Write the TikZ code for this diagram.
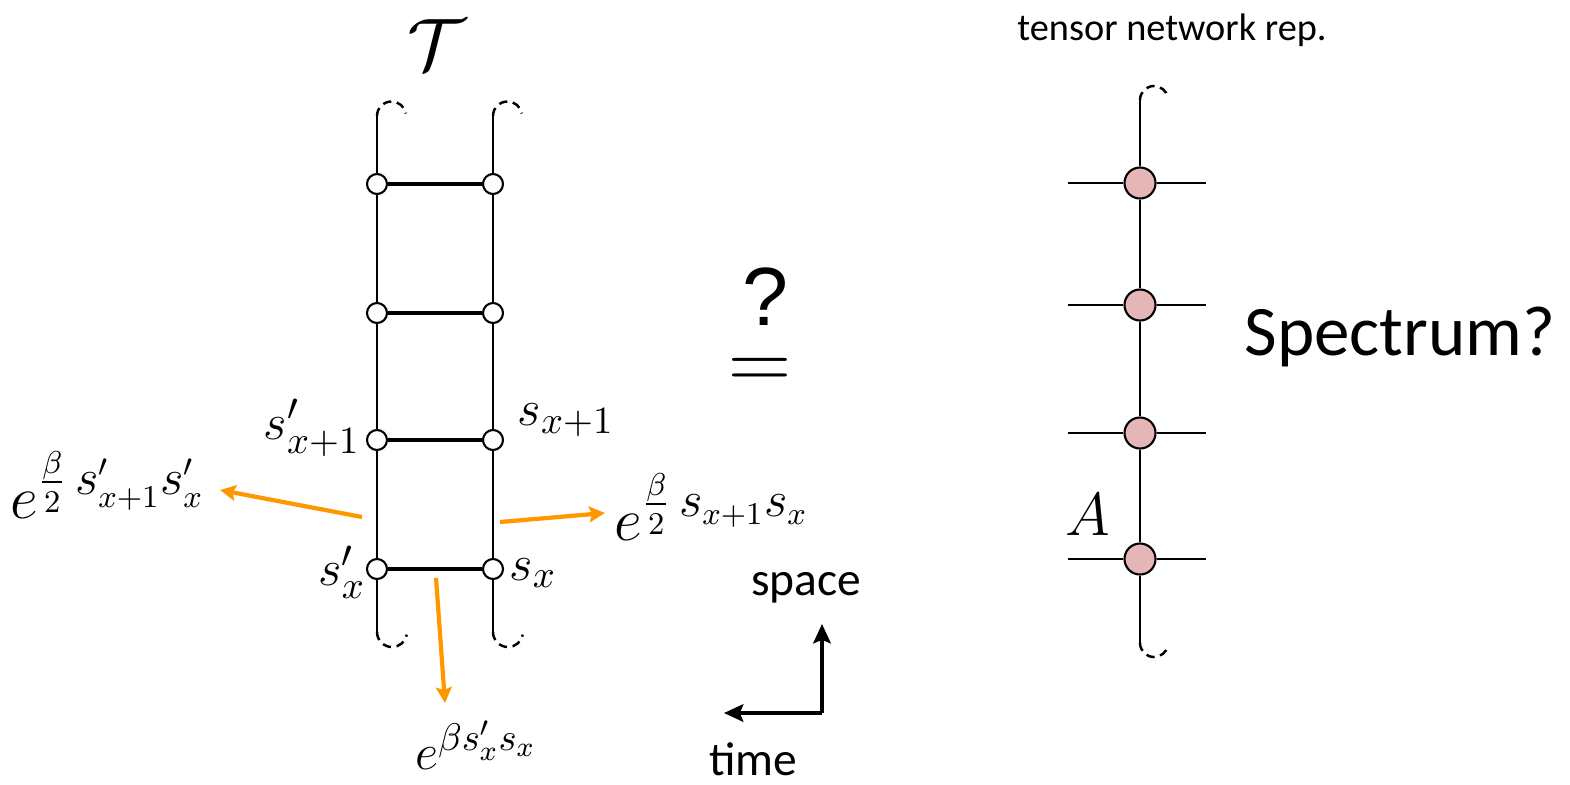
\documentclass[tikz,border=0pt]{standalone}
\usepackage{amsmath}
\usepackage{fontspec}
\setmainfont{Carlito}
\newfontfamily\qfont{Liberation Sans}
\usetikzlibrary{arrows.meta,positioning}
\definecolor{tnpink}{RGB}{230,182,182}
\definecolor{wgtorange}{RGB}{255,152,0}

\begin{document}
\begin{tikzpicture}[
    x=0.01cm, y=-0.01cm,
    spin/.style={circle, draw=black, fill=white, line width=0.6pt, inner sep=0pt, minimum size=0.2cm},
    tensor/.style={circle, draw=black, fill=tnpink, line width=0.6pt, inner sep=0pt, minimum size=0.31cm},
    rail/.style={line width=0.6pt},
    rung/.style={line width=1.2pt},
    loose/.style={line width=0.7pt, dash pattern=on 2.4pt off 1.6pt},
    wgt/.style={-{Stealth[length=4.5pt, width=4.5pt, inset=0.8pt]}, draw=wgtorange, line width=1.2pt},
    axis/.style={-{Stealth[length=5.5pt, width=5pt, inset=1pt]}, line width=1pt},
    lab/.style={font=\fontsize{15.8}{19}\selectfont, inner sep=0pt},
    biglab/.style={font=\fontsize{19}{23}\selectfont, inner sep=0pt},
    txt/.style={font=\fontsize{13.5}{16}\selectfont, inner sep=0pt}
]
\useasboundingbox (0,0) rectangle (1570,784);

\node[lab, font=\fontsize{22}{26}\selectfont] (tlabel) at (437,45) {$\mathcal{T}$};

\foreach \i/\y in {1/184, 2/313, 3/440, 4/569} {
    \node[spin] (l\i) at (377,\y) {};
    \node[spin] (r\i) at (493,\y) {};
}
\coordinate (ltop) at (377,116);
\coordinate (rtop) at (493,116);
\coordinate (lbot) at (377,632);
\coordinate (rbot) at (493,632);

\draw[rail] (ltop) -- (l1) -- (l2) -- (l3) -- (l4) -- (lbot);
\draw[rail] (rtop) -- (r1) -- (r2) -- (r3) -- (r4) -- (rbot);
\foreach \i in {1,...,4} {
    \draw[rung] (l\i) -- (r\i);
}
\draw[loose] (ltop) arc[start angle=180, end angle=10, radius=0.145cm];
\draw[loose] (rtop) arc[start angle=180, end angle=10, radius=0.145cm];
\draw[loose] (lbot) arc[start angle=180, end angle=350, radius=0.15cm];
\draw[loose] (rbot) arc[start angle=180, end angle=350, radius=0.15cm];

\node[lab] (sl3) at (312,428) {$s'_{x+1}$};
\node[lab] (sr3) at (566,420) {$s_{x+1}$};
\node[lab] (sl4) at (342,572) {$s'_x$};
\node[lab] (sr4) at (533,573) {$s_x$};

\node[biglab] (wleft) at (108,485) {$e^{\frac{\beta}{2}\,s'_{x+1}s'_x}$};
\node[biglab] (wright) at (712,507) {$e^{\frac{\beta}{2}\,s_{x+1}s_x}$};
\node[lab] (wrung) at (476,745) {$e^{\beta s'_x s_x}$};

\coordinate (aleft) at (362,517);
\coordinate (eleft) at (220,490);
\coordinate (aright) at (500,522);
\coordinate (eright) at (605,513);
\coordinate (arung) at (436,578);
\coordinate (erung) at (445,703);
\draw[wgt] (aleft) -- (eleft);
\draw[wgt] (aright) -- (eright);
\draw[wgt] (arung) -- (erung);

\node[lab, font=\fontsize{24}{28}\selectfont] (eqsign) at (760,374) {$=$};
\node[font=\fontsize{23.5}{28}\qfont, inner sep=0pt] (qmark) at (765,297) {?};

\coordinate (corner) at (822,713);
\coordinate (spaceend) at (822,624);
\coordinate (timeend) at (724,713);
\draw[axis] (corner) -- (spaceend);
\draw[axis] (corner) -- (timeend);
\node[txt] (space) at (806,588) {space};
\node[txt] (time) at (753,759) {time};

\node[txt, font=\fontsize{10.9}{13}\selectfont] (tnrep) at (1172,30) {tensor network rep.};
\foreach \i/\y in {1/183, 2/305, 3/433, 4/559} {
    \node[tensor] (a\i) at (1140,\y) {};
    \coordinate (w\i) at (1068,\y);
    \coordinate (e\i) at (1206,\y);
    \draw[rail] (w\i) -- (a\i) -- (e\i);
}
\coordinate (atop) at (1140,100);
\coordinate (abot) at (1140,643);
\draw[rail] (atop) -- (a1) -- (a2) -- (a3) -- (a4) -- (abot);
\draw[loose] (atop) arc[start angle=180, end angle=10, radius=0.14cm];
\draw[loose] (abot) arc[start angle=180, end angle=350, radius=0.14cm];
\node[lab, font=\fontsize{17}{20}\selectfont] (alabel) at (1088,515) {$A$};

\node[font=\fontsize{20.2}{24}\selectfont, inner sep=0pt] (spectrum) at (1400,337) {Spectrum?};
\end{tikzpicture}
\end{document}
